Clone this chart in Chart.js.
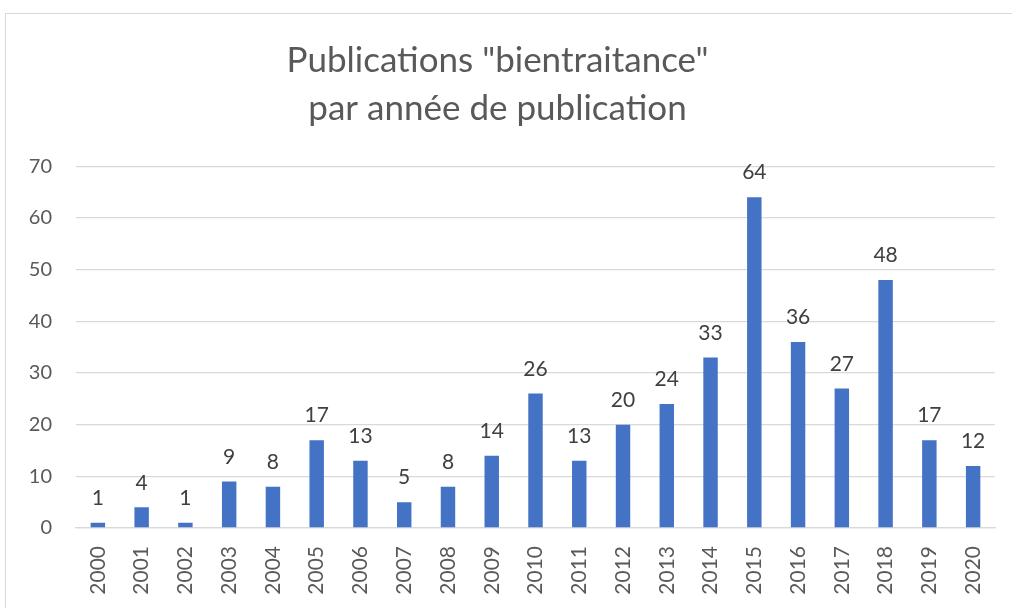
<!DOCTYPE html>
<html>
<head>
<meta charset="utf-8">
<script src="https://cdn.jsdelivr.net/npm/chart.js@4.4.1/dist/chart.umd.min.js"></script>
<style>
    html, body { margin: 0; padding: 0; background: #fff; }
    #frame {
        position: absolute; left: 5px; top: 13px; width: 1100px; height: 700px;
        border: 1px solid #d9d9d9; box-sizing: border-box;
    }
    #wrap { position: absolute; left: 0; top: 0; width: 1012px; height: 608px; }
</style>
</head>
<body>
<div id="frame"></div>
<div id="wrap"><canvas id="chart" width="1012" height="608"></canvas></div>
<script>
const years = ['2000', '2001', '2002', '2003', '2004', '2005', '2006', '2007', '2008', '2009', '2010',
               '2011', '2012', '2013', '2014', '2015', '2016', '2017', '2018', '2019', '2020'];
const publications = [1, 4, 1, 9, 8, 17, 13, 5, 8, 14, 26, 13, 20, 24, 33, 64, 36, 27, 48, 17, 12];
const titleLines = ['Publications "bientraitance"', 'par année de publication'];

const FONT = "Lato, 'Open Sans', sans-serif";

// value labels above each bar
const barValues = {
    id: 'barValues',
    afterDatasetsDraw(chart) {
        const ctx = chart.ctx;
        const meta = chart.getDatasetMeta(0);
        ctx.save();
        ctx.font = "21px " + FONT;
        ctx.fillStyle = '#404040';
        ctx.textAlign = 'center';
        ctx.textBaseline = 'bottom';
        meta.data.forEach((bar, i) => {
            ctx.fillText(String(publications[i]), bar.x, bar.y - 14);
        });
        ctx.restore();
    }
};

new Chart(document.getElementById('chart'), {
    type: 'bar',
    data: {
        labels: years,
        datasets: [{
            data: publications,
            backgroundColor: '#4472c4',
            borderWidth: 0,
            barPercentage: 0.66,
            categoryPercentage: 0.5
        }]
    },
    options: {
        responsive: false,
        animation: false,
        layout: { padding: { top: 37, right: 17, left: 0, bottom: 0 } },
        plugins: {
            legend: { display: false },
            tooltip: { enabled: false },
            title: {
                display: true,
                text: titleLines,
                color: '#595959',
                font: { family: FONT, size: 35, weight: 'normal', lineHeight: 1.36 },
                padding: { top: 0, bottom: 34 }
            }
        },
        scales: {
            y: {
                min: 0,
                max: 70,
                ticks: {
                    stepSize: 10,
                    color: '#595959',
                    font: { family: FONT, size: 20 },
                    padding: 24
                },
                grid: { color: '#d9d9d9', lineWidth: 1.3, drawTicks: false },
                border: { display: false },
                afterFit(scale) { scale.width = 76; }
            },
            x: {
                ticks: {
                    color: '#595959',
                    font: { family: FONT, size: 21 },
                    minRotation: 90,
                    maxRotation: 90,
                    padding: 10
                },
                grid: { display: false },
                border: { color: '#d9d9d9', width: 1.3 },
                afterFit(scale) { scale.height = 80; }
            }
        }
    },
    plugins: [barValues]
});
</script>
</body>
</html>
